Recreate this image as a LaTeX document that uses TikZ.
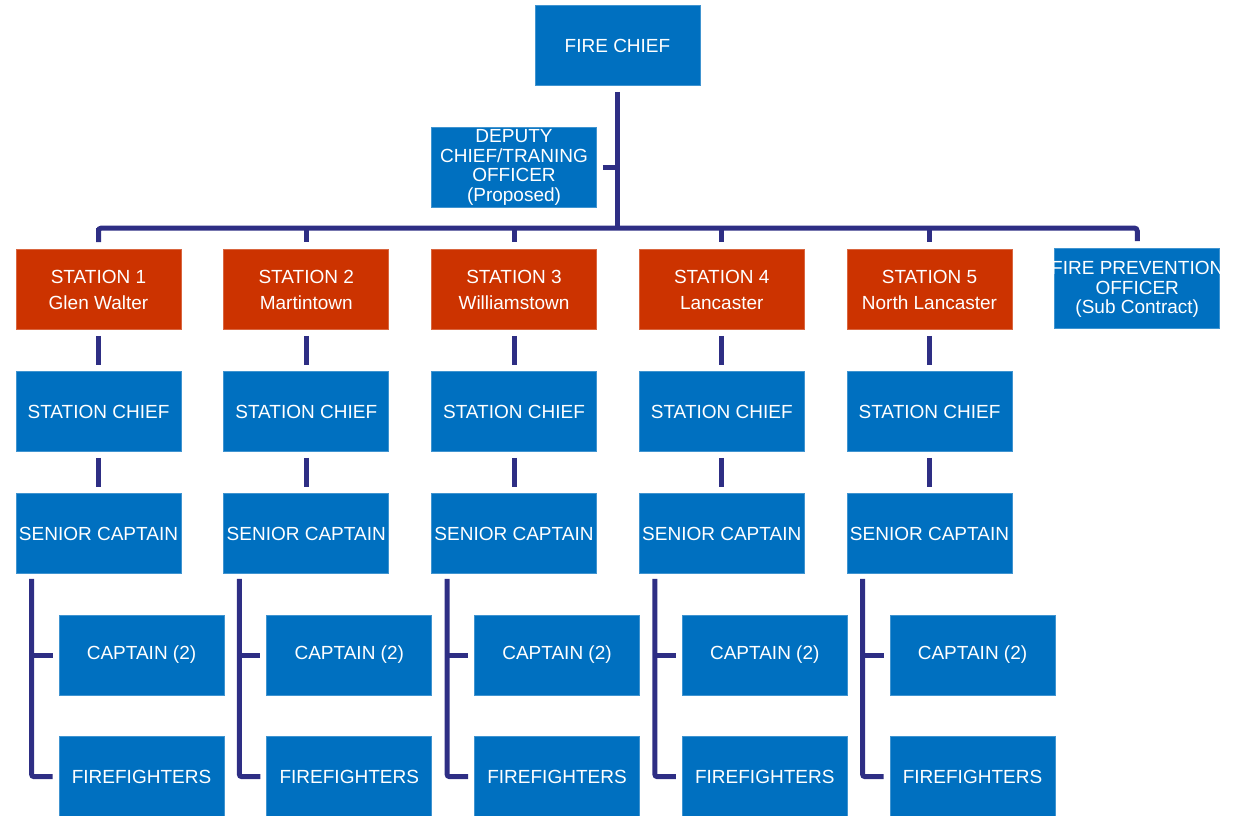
\documentclass[tikz,border=0pt]{standalone}
\usepackage{fontspec}
\setmainfont{Liberation Sans}
\definecolor{boxblue}{HTML}{0070C0}
\definecolor{boxred}{HTML}{CC3300}
\definecolor{navy}{HTML}{2E2E84}
\begin{document}
\begin{tikzpicture}[x=1pt,y=-1pt,
  box/.style={rectangle, fill=boxblue, draw=boxblue!75!white, line width=0.6pt, minimum width=165pt, minimum height=80pt, inner sep=0pt, text=white, align=center, font=\fontsize{19}{19.6}\selectfont},
  redbox/.style={box, fill=boxred, draw=boxred!75!white, font=\fontsize{19}{26}\selectfont},
  lbl/.style={inner sep=0pt, text=white, align=center, font=\fontsize{19}{19.2}\selectfont},
  conn/.style={draw=navy, line width=5pt}]
\useasboundingbox (0,0) rectangle (1243,815);
\node[box] (fc) at (617.5,45.5) {FIRE CHIEF};
\node[box] (dep) at (514,167.5) {DEPUTY\\CHIEF/TRANING\\OFFICER\\(Proposed)};
\node[box] (fp) at (1137.25,288.5) {};
\node[lbl] (fpt) at (1137.25,289.5) {FIRE PREVENTION\\OFFICER\\(Sub Contract)};
\coordinate (bus) at (617.5,228);
\draw[conn] ([yshift=-6pt]fc.south) -- (fc.south |- bus);
\draw[conn] ([xshift=6pt]dep.east) -- (dep.east -| fc.south);
\foreach \i/\n/\t in {1/98.5/Glen Walter, 2/306.25/Martintown, 3/514/Williamstown, 4/721.75/Lancaster, 5/929.5/North Lancaster} {
  \node[redbox] (s\i) at (\n,289.5) {STATION \i\\\t};
  \node[box] (c\i) at (\n,411.5) {STATION CHIEF};
  \node[box] (sc\i) at (\n,533.5) {SENIOR CAPTAIN};
  \node[box] (cp\i) at (\n+43,655) {CAPTAIN (2)};
  \node[box] (ff\i) at (\n+43,776.5) {FIREFIGHTERS};
  \draw[conn] (s\i.north |- bus) -- ([yshift=7pt]s\i.north);
  \draw[conn] ([yshift=-6pt]s\i.south) -- ([yshift=6pt]c\i.north);
  \draw[conn] ([yshift=-6pt]c\i.south) -- ([yshift=6pt]sc\i.north);
  \coordinate (e\i) at ([xshift=16pt,yshift=-5pt]sc\i.south west);
  \draw[conn, rounded corners=2pt] (e\i) -- (e\i |- ff\i.west) -- ([xshift=-6pt]ff\i.west);
  \draw[conn] (e\i |- cp\i.west) -- ([xshift=-6pt]cp\i.west);
}
\draw[conn, rounded corners=3pt] ([yshift=7pt]s1.north) -- (s1.north |- bus) -- (fp.north |- bus) -- ([yshift=7pt]fp.north);
\end{tikzpicture}
\end{document}
